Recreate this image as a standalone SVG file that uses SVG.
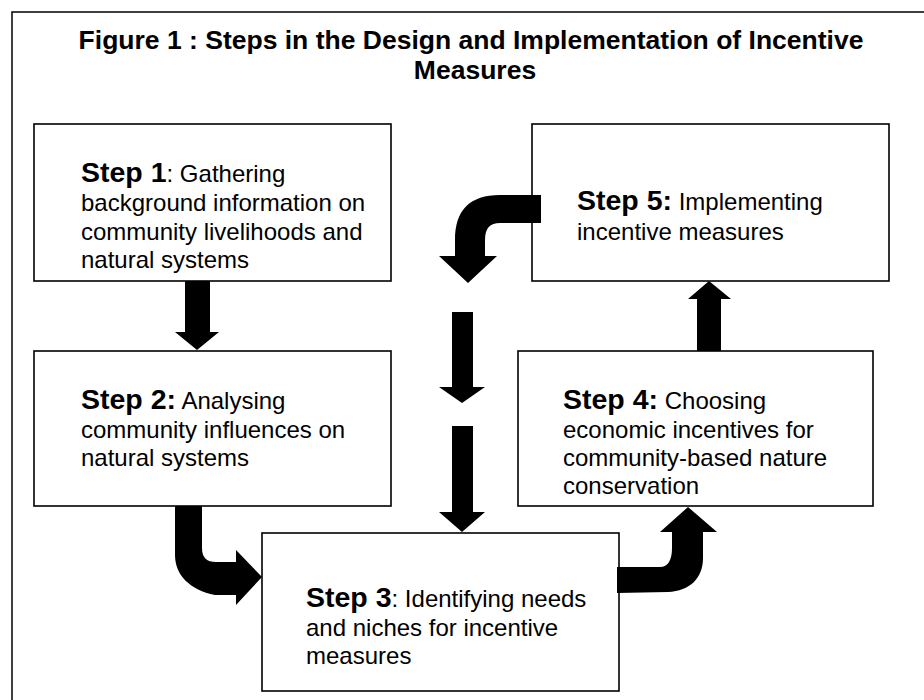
<svg xmlns="http://www.w3.org/2000/svg" width="924" height="700" viewBox="0 0 924 700">
<style>
.frame{fill:#fff;stroke:#000;stroke-width:1.5}
.box{fill:#fff;stroke:#000;stroke-width:1.6}
.title{font-family:"Liberation Sans",Arial,sans-serif;font-weight:bold;font-size:26.5px;fill:#000}
.t{font-family:"Liberation Sans",Arial,sans-serif;font-size:24px;fill:#000}
.s{font-weight:bold;font-size:28.5px}
.arr{fill:#000;stroke:none}
</style>
<rect width="924" height="700" fill="#fff"/>
<rect class="frame" x="12" y="12" width="940" height="720"/>
<g id="title">
<text class="title" x="471" y="49" text-anchor="middle">Figure 1 : Steps in the Design and Implementation of Incentive</text>
<text class="title" x="475" y="79" text-anchor="middle">Measures</text>
</g>
<g id="step1">
<rect class="box" x="34" y="124" width="357" height="157"/>
<text class="t" x="81" y="182"><tspan class="s">Step 1</tspan>: Gathering</text>
<text class="t" x="81" y="211">background information on</text>
<text class="t" x="81" y="240">community livelihoods and</text>
<text class="t" x="81" y="268">natural systems</text>
</g>
<g id="step2">
<rect class="box" x="34" y="351" width="357" height="155"/>
<text class="t" x="81" y="409"><tspan class="s">Step 2:</tspan> Analysing</text>
<text class="t" x="81" y="438">community influences on</text>
<text class="t" x="81" y="466">natural systems</text>
</g>
<g id="step3">
<rect class="box" x="262" y="533" width="357" height="158"/>
<text class="t" x="306" y="607"><tspan class="s">Step 3</tspan>: Identifying needs</text>
<text class="t" x="306" y="636">and niches for incentive</text>
<text class="t" x="306" y="664">measures</text>
</g>
<g id="step4">
<rect class="box" x="518" y="351" width="355" height="155"/>
<text class="t" x="563" y="409"><tspan class="s">Step 4:</tspan> Choosing</text>
<text class="t" x="563" y="438">economic incentives for</text>
<text class="t" x="563" y="466">community-based nature</text>
<text class="t" x="563" y="494">conservation</text>
</g>
<g id="step5">
<rect class="box" x="532" y="124" width="357" height="157"/>
<text class="t" x="577" y="210"><tspan class="s">Step 5:</tspan> Implementing</text>
<text class="t" x="577" y="240">incentive measures</text>
</g>
<g id="connectors">
<path class="arr" d="M185,281 L210,281 L210,332 L219,332 L197,350 L175,332 L185,332 Z"/>
<path class="arr" d="M175,506 L202,506 L202,548 C202,558 207,562 216,562 L236,562 L236,550 L262,577 L236,605 L236,595 L215,595 C190,590 175,575 175,555 Z"/>
<path class="arr" d="M617,567 L660,567 C668,567 672,560 672,548 L672,532 L660,532 L688,507 L717,532 L703,532 L703,558 C703,578 690,591 668,592 L617,593 Z"/>
<path class="arr" d="M697,351 L697,299 L688,299 L709,281 L731,299 L721,299 L721,351 Z"/>
<path class="arr" d="M541,195 L500,195 C470,195 455,210 455,240 L455,256 L439,256 L468,283 L497,256 L485,256 L485,240 C485,228 490,223 500,223 L541,223 Z"/>
<path class="arr" d="M452,312 L473,312 L473,387 L485,387 L462,403 L439,387 L452,387 Z"/>
<path class="arr" d="M452,426 L473,426 L473,512 L485,512 L462,532 L439,512 L452,512 Z"/>
</g>
</svg>
